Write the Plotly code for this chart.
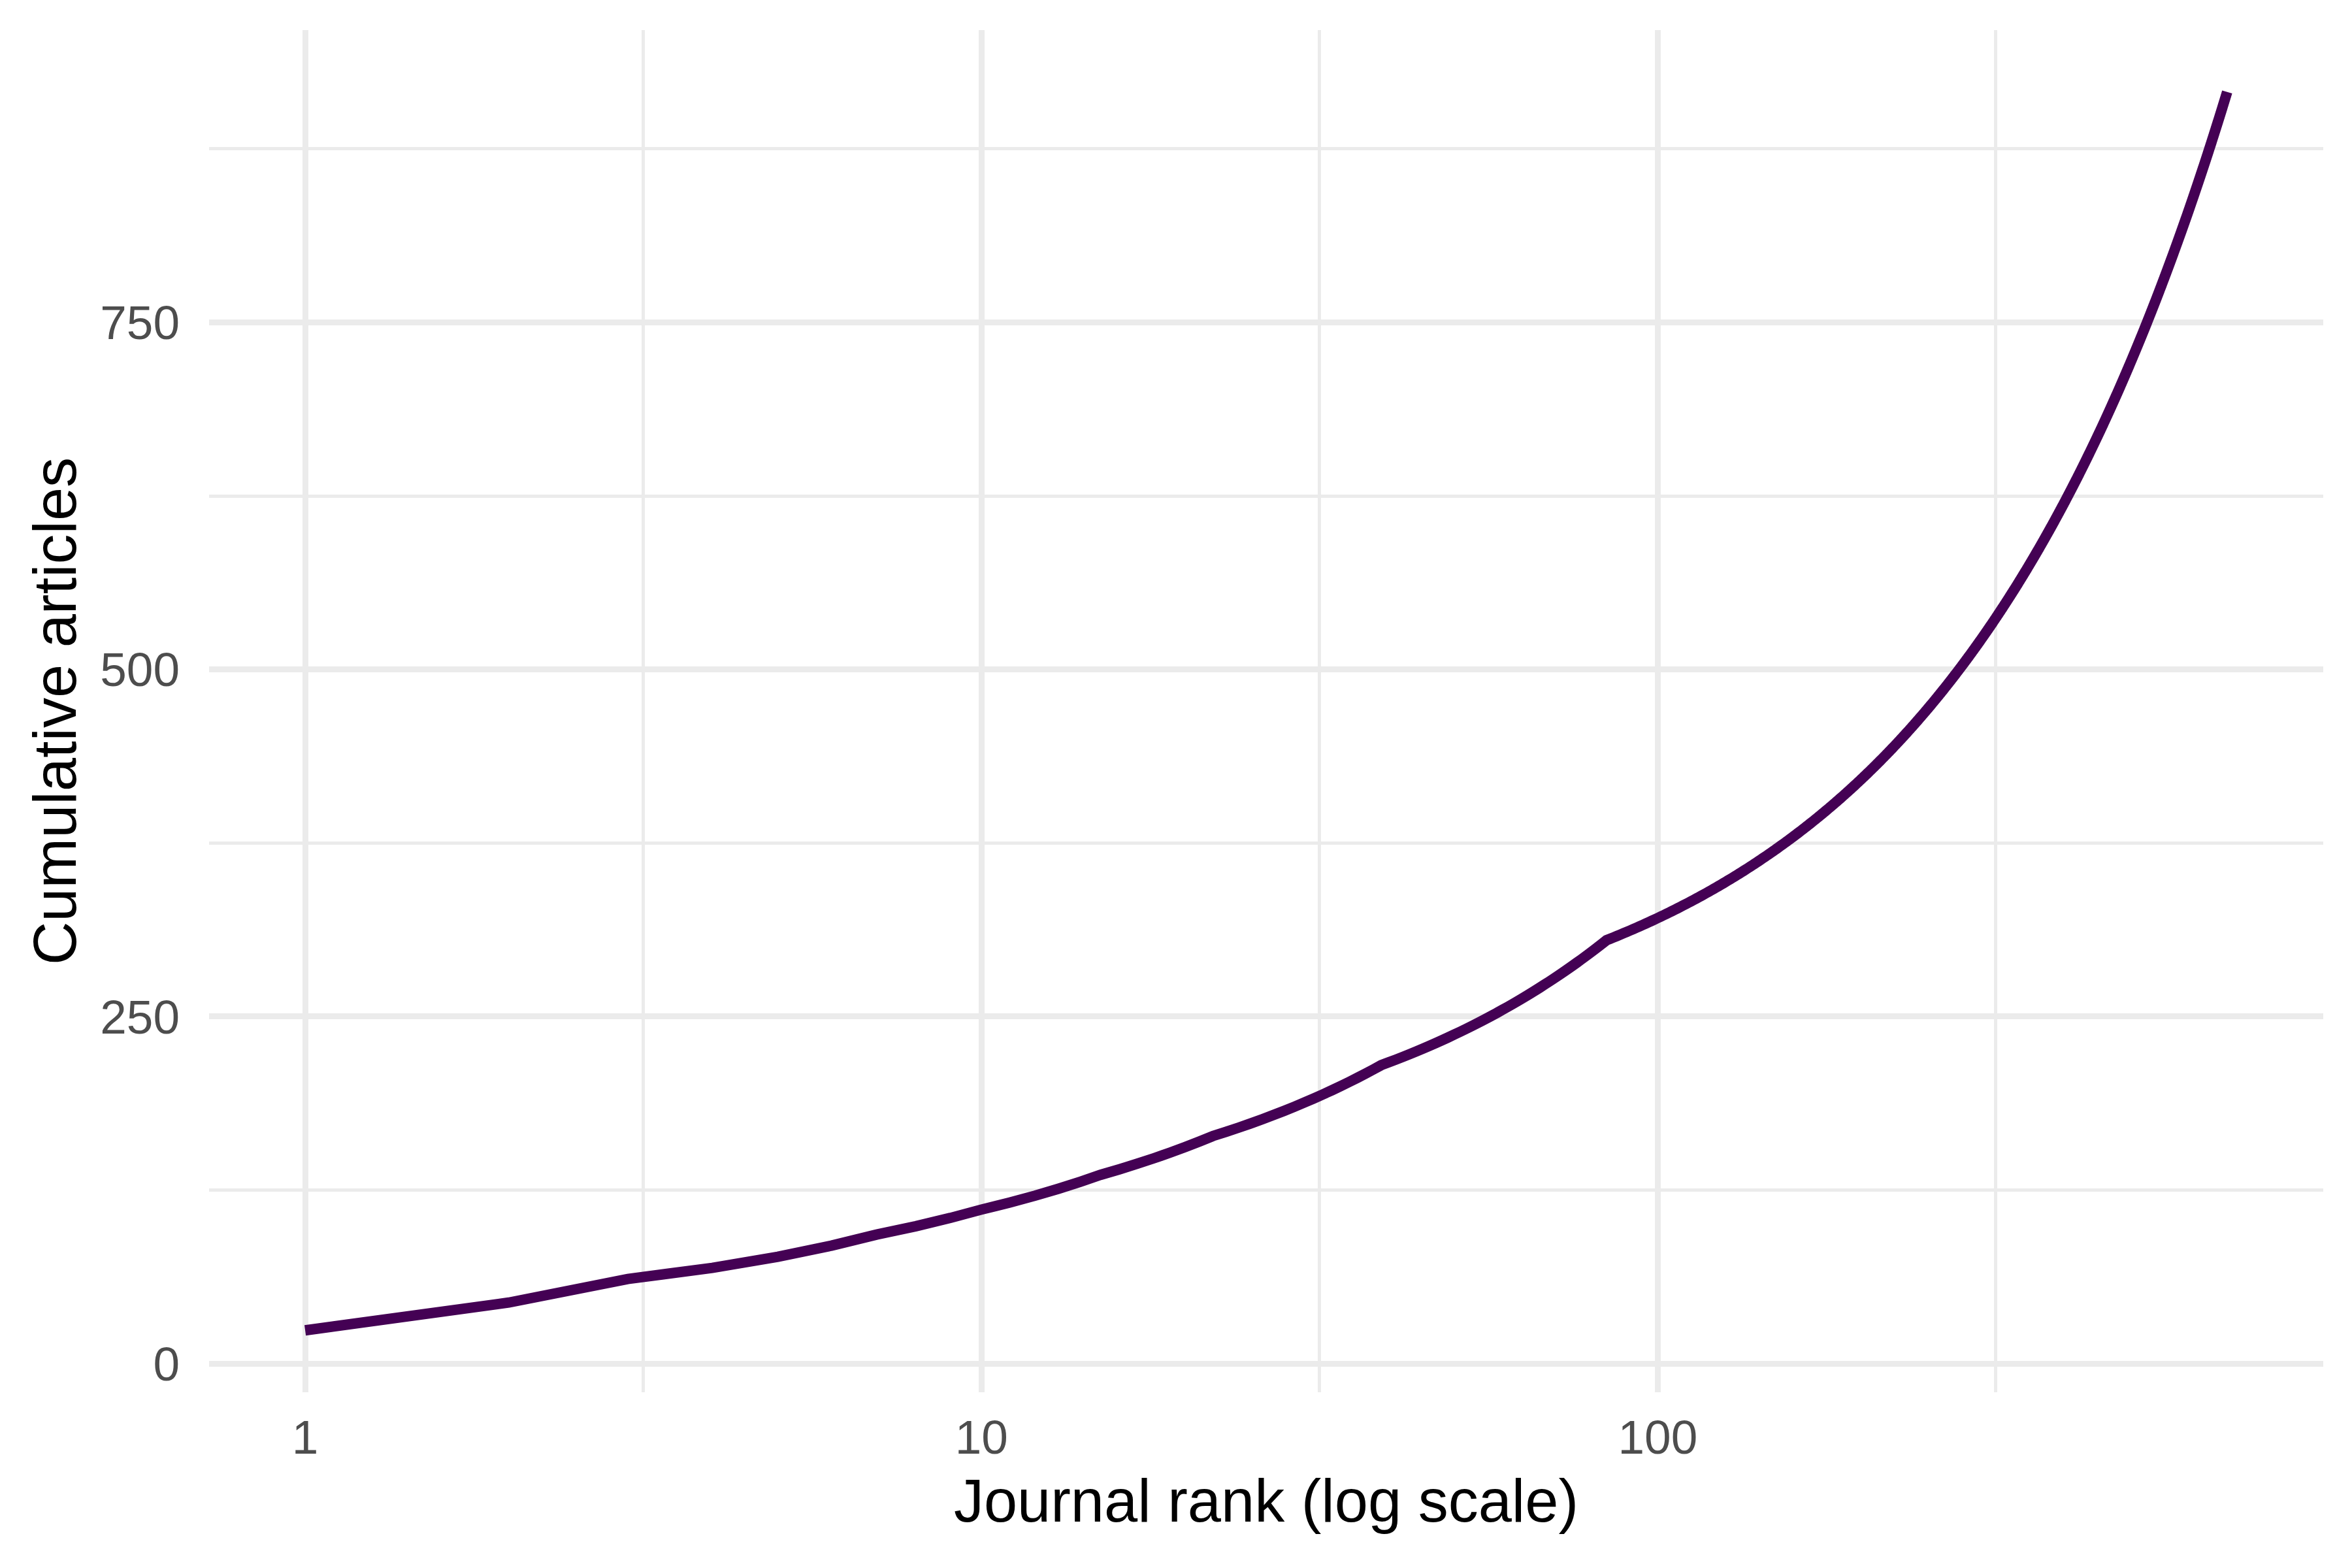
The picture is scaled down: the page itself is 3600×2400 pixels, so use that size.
import numpy as np
import plotly.graph_objects as go

# Articles per journal, read off the picture as runs:
# run i = journals_in_run[i] consecutive journals with articles_per_journal[i] articles each
articles_per_journal = [24, 20, 17, 8, 6, 5, 4, 3, 2, 1]
journals_in_run = [1, 1, 1, 4, 3, 5, 7, 17, 45, 611]

x_tickvals = [1, 10, 100]
x_ticktext = ["1", "10", "100"]
y_tickvals = [0, 250, 500, 750]
y_ticktext = ["0", "250", "500", "750"]

LINE_COLOR = "#440154"
GRID_COLOR = "#EBEBEB"
TICK_COLOR = "#4D4D4D"
FONT = "Liberation Sans, Arial, sans-serif"

counts = np.repeat(articles_per_journal, journals_in_run)
cumulative = np.cumsum(counts)
rank = np.arange(1, len(counts) + 1)

# ggplot-style 5% expansion of the data range
lx = np.log10([rank.min(), rank.max()])
xpad = 0.05 * (lx[1] - lx[0])
ypad = 0.05 * (cumulative.max() - cumulative.min())

fig = go.Figure()
fig.add_trace(go.Scatter(x=rank, y=cumulative, mode="lines",
                         line=dict(color=LINE_COLOR, width=16, simplify=False),
                         hoverinfo="x+y"))

# page body has an 8px margin, so the figure is 16px smaller than the window
fig.update_layout(
    width=3584, height=2384,
    margin=dict(l=312, r=36, t=38, b=261),
    plot_bgcolor="white", paper_bgcolor="white",
    showlegend=False,
    font=dict(family=FONT),
)

fig.update_xaxes(
    type="log",
    range=[lx[0] - xpad, lx[1] + xpad],
    tickvals=x_tickvals, ticktext=x_ticktext,
    tickfont=dict(size=73, color=TICK_COLOR),
    ticks="", showline=False, zeroline=False,
    showgrid=True, gridcolor=GRID_COLOR, gridwidth=9,
    minor=dict(tickvals=[10 ** 0.5, 10 ** 1.5, 10 ** 2.5],
               showgrid=True, gridcolor=GRID_COLOR, gridwidth=4.5, ticks=""),
    ticklabelstandoff=20,
    title=dict(text="Journal rank (log scale)",
               font=dict(size=92, color="black"), standoff=25),
)

fig.update_yaxes(
    range=[cumulative.min() - ypad, cumulative.max() + ypad],
    tickvals=y_tickvals, ticktext=y_ticktext,
    tickfont=dict(size=73, color=TICK_COLOR),
    ticks="", showline=False, zeroline=False,
    showgrid=True, gridcolor=GRID_COLOR, gridwidth=9,
    minor=dict(tickvals=[125, 375, 625, 875],
               showgrid=True, gridcolor=GRID_COLOR, gridwidth=4.5, ticks=""),
    ticklabelstandoff=44,
    title=dict(text="Cumulative articles",
               font=dict(size=92, color="black"), standoff=5),
)

fig.write_html("out.html")
